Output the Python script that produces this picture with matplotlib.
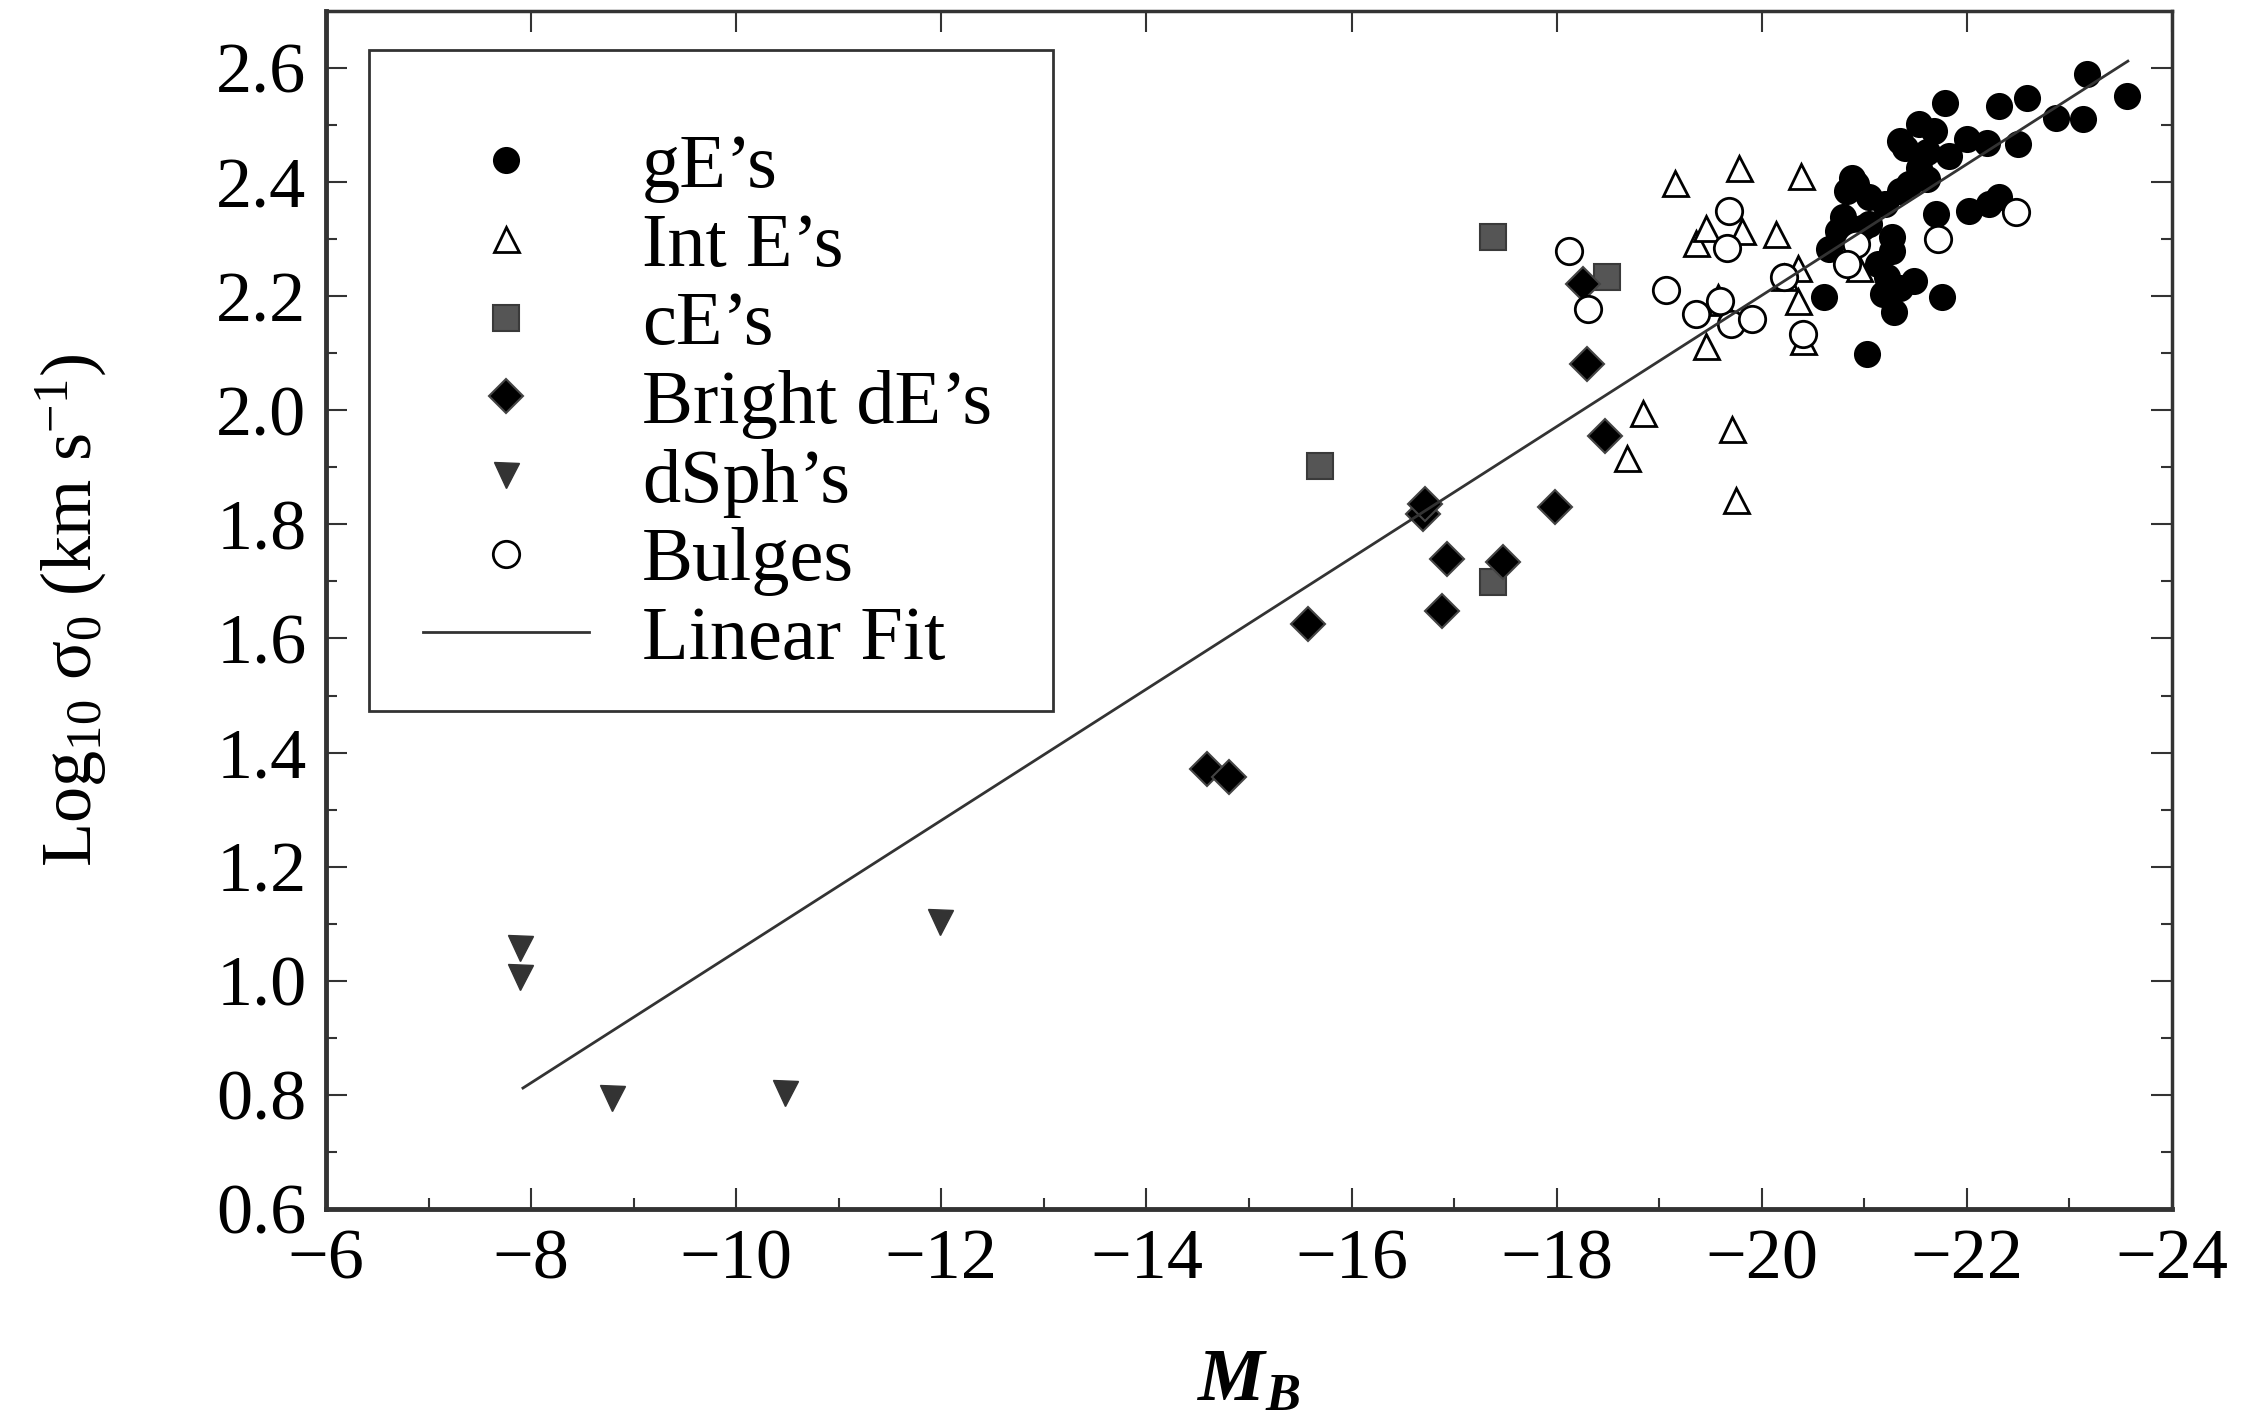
import numpy as np
import matplotlib as mpl
mpl.use('Agg')
import matplotlib.pyplot as plt
from matplotlib.patches import Rectangle

# absolute B magnitude vs log10 central velocity dispersion
gE_x = [-23.17, -23.56, -21.79, -22.31, -22.59, -22.87, -23.13, -21.53, -21.68, -22.00,
        -22.20, -22.50, -21.40, -21.61, -21.83, -21.53, -21.61, -21.35, -20.92, -20.88,
        -21.20, -20.79, -21.05, -21.27, -21.27, -20.66, -21.70, -22.02, -22.31, -22.22,
        -20.61, -21.18, -21.48, -21.76, -21.29, -21.03, -20.98, -21.13, -21.35, -21.44,
        -21.05, -20.83, -20.74, -21.22, -21.35]
gE_y = [2.589, 2.551, 2.539, 2.533, 2.548, 2.513, 2.510, 2.501, 2.490, 2.475,
        2.469, 2.466, 2.460, 2.452, 2.446, 2.425, 2.405, 2.385, 2.396, 2.408,
        2.361, 2.338, 2.326, 2.303, 2.280, 2.282, 2.344, 2.350, 2.373, 2.361,
        2.198, 2.204, 2.227, 2.198, 2.172, 2.099, 2.320, 2.256, 2.472, 2.396,
        2.373, 2.385, 2.315, 2.233, 2.215]

intE_x = [-19.15, -19.78, -20.38, -19.36, -19.46, -19.81, -20.14, -20.35, -20.22, -20.35,
          -19.57, -19.46, -20.40, -18.84, -19.71, -18.69, -19.75, -20.85, -20.95, -19.60]
intE_y = [2.399, 2.425, 2.411, 2.294, 2.320, 2.315, 2.309, 2.250, 2.233, 2.192,
          2.198, 2.113, 2.122, 1.996, 1.967, 1.917, 1.842, 2.270, 2.250, 2.190]

cE_x = [-17.38, -18.49, -15.69, -17.38]
cE_y = [2.303, 2.233, 1.903, 1.699]

dE_x = [-18.26, -18.30, -18.47, -17.98, -16.70, -16.72, -16.93, -17.48, -16.88, -15.58,
        -14.59, -14.80]
dE_y = [2.221, 2.081, 1.955, 1.830, 1.818, 1.835, 1.739, 1.734, 1.649, 1.626,
        1.372, 1.357]

dSph_x = [-7.89, -7.89, -8.79, -10.48, -11.99]
dSph_y = [1.057, 1.007, 0.794, 0.803, 1.103]

bulge_x = [-18.12, -18.31, -19.07, -19.68, -19.66, -19.36, -19.70, -19.90, -20.22, -20.40,
           -21.72, -22.48, -20.92, -20.83, -19.59]
bulge_y = [2.279, 2.177, 2.210, 2.350, 2.285, 2.168, 2.151, 2.160, 2.233, 2.134,
           2.300, 2.347, 2.291, 2.256, 2.192]

fit_x = [-7.92, -23.57]
fit_y = [0.812, 2.612]

plt.rcParams['font.family'] = ['Liberation Serif', 'DejaVu Serif']
plt.rcParams['mathtext.fontset'] = 'custom'
plt.rcParams['mathtext.rm'] = 'Liberation Serif'
plt.rcParams['mathtext.it'] = 'Liberation Serif:italic'
plt.rcParams['mathtext.bf'] = 'Liberation Serif:bold:italic'
plt.rcParams['font.size'] = 52

fig = plt.figure(figsize=(22.44, 14.2), dpi=100)
ax = fig.add_axes([0.1453, 0.1486, 0.8226, 0.8437])

ax.plot(gE_x, gE_y, ls='none', marker='o', ms=18, mfc='black', mec='black', mew=1.5,
        label="gE\u2019s", zorder=3)
ax.plot(intE_x, intE_y, ls='none', marker='^', ms=18, mfc='white', mec='black', mew=2,
        label="Int E\u2019s", zorder=3)
ax.plot(cE_x, cE_y, ls='none', marker='s', ms=19, mfc='#555555', mec='#3a3a3a', mew=1.5,
        label="cE\u2019s", zorder=3)
ax.plot(dE_x, dE_y, ls='none', marker='D', ms=17, mfc='black', mec='#444444', mew=1.5,
        label="Bright dE\u2019s", zorder=3)
ax.plot(dSph_x, dSph_y, ls='none', marker='v', ms=18, mfc='#333333', mec='#333333', mew=1,
        label="dSph\u2019s", zorder=3)
ax.plot(bulge_x, bulge_y, ls='none', marker='o', ms=19, mfc='white', mec='black', mew=2,
        label='Bulges', zorder=4)
ax.plot(fit_x, fit_y, color='#333333', lw=2, label='Linear Fit', zorder=5)

ax.set_xlim(-6, -24)
ax.set_ylim(0.6, 2.7)
ax.set_xticks(np.arange(-6, -25, -2))
ax.set_xticks(np.arange(-7, -24, -2), minor=True)
ax.set_yticks(np.arange(0.6, 2.61, 0.2))
ax.set_yticks(np.arange(0.7, 2.7, 0.2), minor=True)
ax.yaxis.set_major_formatter(mpl.ticker.FormatStrFormatter('%.1f'))

ax.tick_params(which='major', direction='in', length=15, width=1.5, color='#333333',
               top=True, right=True, labelsize=52, pad=14)
ax.tick_params(which='minor', direction='in', length=8, width=1.5, color='#333333',
               top=False, right=True)
for side in ['left', 'bottom']:
    ax.spines[side].set_linewidth(3.5)
for side in ['top', 'right']:
    ax.spines[side].set_linewidth(2.5)
for s in ax.spines.values():
    s.set_color('#333333')

ax.set_xlabel('$\\mathbf{M}_{\\mathbf{B}}$', fontsize=54, labelpad=40)
ax.set_ylabel('Log$_{10}$ \u03c3$_{0}$ (km s$^{-1}$)', fontsize=52, labelpad=78)

leg = ax.legend(loc='upper left', bbox_to_anchor=(0.032, 0.9295), frameon=False,
                fontsize=55, handlelength=2.17, handletextpad=0.69, labelspacing=0.12,
                borderpad=0, numpoints=1)
ax.add_patch(Rectangle((0.023, 0.416), 0.371, 0.551, transform=ax.transAxes,
                       fill=False, ec='#333333', lw=2, zorder=6))

fig.savefig('out.png', dpi=100)
